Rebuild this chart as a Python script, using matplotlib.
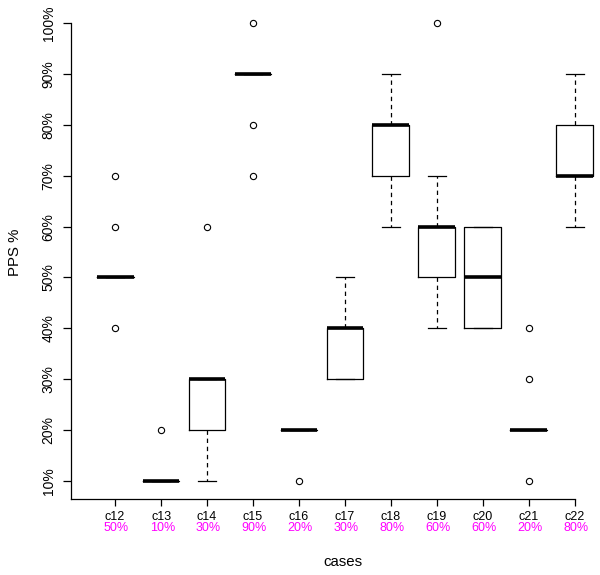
import matplotlib
matplotlib.use("Agg")
import matplotlib.pyplot as plt
from matplotlib.transforms import blended_transform_factory

plt.rcParams["font.family"] = ["Liberation Sans", "DejaVu Sans"]

cases = ["c12", "c13", "c14", "c15", "c16", "c17", "c18", "c19", "c20", "c21", "c22"]
pct_labels = ["50%", "10%", "30%", "90%", "20%", "30%", "80%", "60%", "60%", "20%", "80%"]

# box statistics (values in %)
medians = [50, 10, 30, 90, 20, 40, 80, 60, 50, 20, 70]
q1 = [50, 10, 20, 90, 20, 30, 70, 50, 40, 20, 70]
q3 = [50, 10, 30, 90, 20, 40, 80, 60, 60, 20, 80]
whislo = [50, 10, 10, 90, 20, 30, 60, 40, 40, 20, 60]
whishi = [50, 10, 30, 90, 20, 50, 90, 70, 60, 20, 90]
fliers = [[40, 60, 70], [20], [60], [70, 80, 100], [10], [], [], [100], [], [10, 30, 40], []]

y_ticks = [10, 20, 30, 40, 50, 60, 70, 80, 90, 100]

stats = []
for i in range(len(cases)):
    stats.append({
        "med": medians[i], "q1": q1[i], "q3": q3[i],
        "whislo": whislo[i], "whishi": whishi[i],
        "fliers": fliers[i], "label": cases[i],
    })

fig = plt.figure(figsize=(6, 5.75), dpi=100, facecolor="white")
ax = fig.add_axes([71 / 600, 76 / 575, 529 / 600, 494 / 575])

positions = list(range(1, len(cases) + 1))
ax.bxp(
    stats, positions=positions, widths=0.8, capwidths=0.4,
    boxprops=dict(color="black", linewidth=0.9),
    medianprops=dict(color="black", linewidth=2.6, solid_capstyle="butt"),
    whiskerprops=dict(color="black", linewidth=0.9, linestyle=(0, (3.5, 3))),
    capprops=dict(color="black", linewidth=0.9),
    flierprops=dict(marker="o", markerfacecolor="none", markeredgecolor="black",
                    markersize=4.5, markeredgewidth=0.8),
)

ax.set_xlim(0.04, 11.55)
ax.set_ylim(6.4, 103.6)

for side in ["top", "right"]:
    ax.spines[side].set_visible(False)
ax.spines["left"].set_bounds(6.4, 100)
ax.spines["bottom"].set_bounds(0.04, 11)
ax.spines["left"].set_linewidth(0.9)
ax.spines["bottom"].set_linewidth(0.9)

ax.set_yticks(y_ticks)
ax.set_yticklabels([f"{v}%" for v in y_ticks], rotation=90, va="center", fontsize=10)
ax.tick_params(axis="y", length=5.5, width=0.9, pad=5.5)

ax.set_xticks(positions)
ax.set_xticklabels(cases, fontsize=9)
ax.tick_params(axis="x", length=5, width=0.9, pad=4)

trans = blended_transform_factory(ax.transData, fig.transFigure)
for pos, lab in zip(positions, pct_labels):
    ax.text(pos + 0.03, 1 - 528 / 575, lab, transform=trans, color="#ff00ff",
            fontsize=9, ha="center", va="center")

fig.text(343 / 600, 1 - 562 / 575, "cases", fontsize=10.8, ha="center", va="center")
fig.text(15 / 600, 1 - 252 / 575, "PPS %", fontsize=10.8, rotation=90, ha="center", va="center")

fig.savefig("out.png", dpi=100)
